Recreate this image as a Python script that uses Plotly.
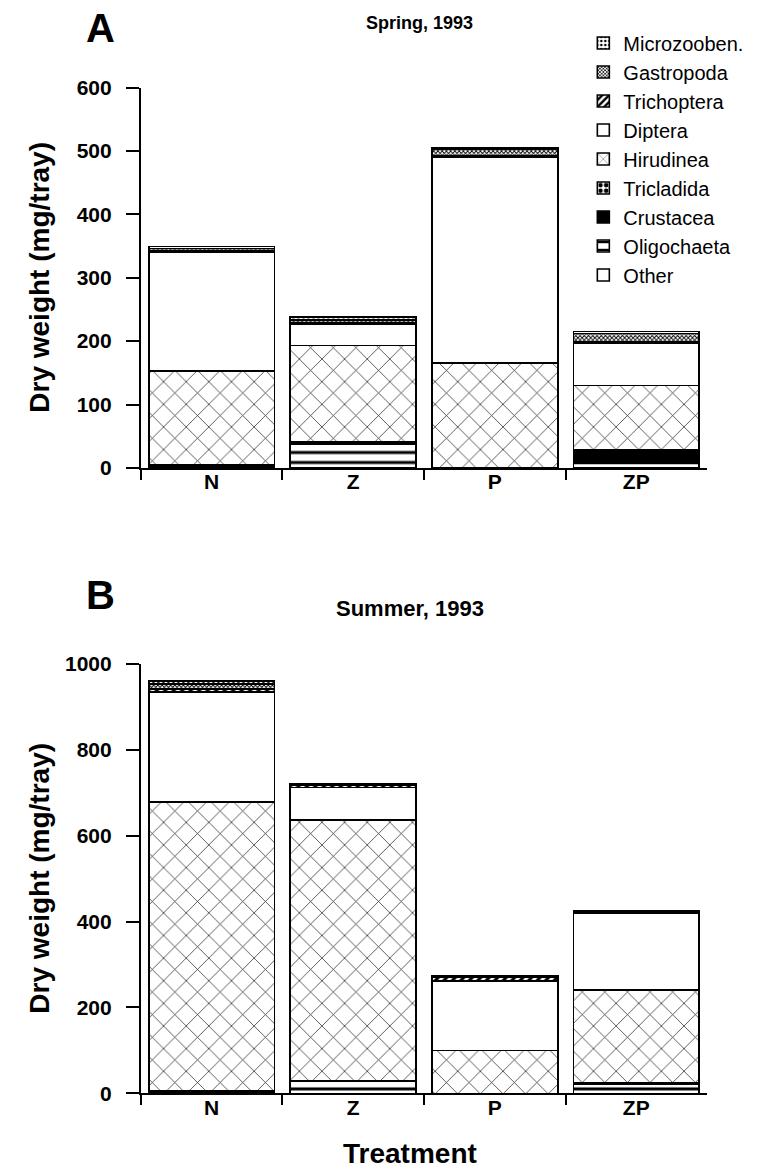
import plotly.graph_objects as go

treatments = ["N", "Z", "P", "ZP"]
taxa = ["Other", "Oligochaeta", "Crustacea", "Tricladida", "Hirudinea",
        "Diptera", "Trichoptera", "Gastropoda", "Microzooben."]

# Dry weight (mg/tray), spring 1993
spring_other = [0, 0, 0, 0]
spring_oligochaeta = [2, 38, 0, 8]
spring_crustacea = [3, 3, 0, 20]
spring_tricladida = [0, 0, 0, 0]
spring_hirudinea = [148, 152, 165, 102]
spring_diptera = [187, 33, 325, 67]
spring_trichoptera = [2, 3, 2, 2]
spring_gastropoda = [4, 4, 10, 13]
spring_microzooben = [3, 5, 3, 3]

# Dry weight (mg/tray), summer 1993
summer_other = [0, 0, 0, 0]
summer_oligochaeta = [3, 28, 0, 22]
summer_crustacea = [2, 2, 0, 3]
summer_tricladida = [0, 0, 0, 0]
summer_hirudinea = [674, 607, 100, 215]
summer_diptera = [256, 75, 161, 180]
summer_trichoptera = [6, 5, 10, 3]
summer_gastropoda = [12, 3, 2, 1]
summer_microzooben = [7, 2, 1, 1]

spring = [spring_other, spring_oligochaeta, spring_crustacea, spring_tricladida,
          spring_hirudinea, spring_diptera, spring_trichoptera, spring_gastropoda,
          spring_microzooben]
summer = [summer_other, summer_oligochaeta, summer_crustacea, summer_tricladida,
          summer_hirudinea, summer_diptera, summer_trichoptera, summer_gastropoda,
          summer_microzooben]

# fill pattern per taxon
patterns = {
    "Other": dict(shape="", bgcolor="white"),
    "Oligochaeta": dict(shape="-", fgcolor="black", fgopacity=1, bgcolor="white", size=10, solidity=0.3),
    "Crustacea": dict(shape="", bgcolor="black"),
    "Tricladida": dict(shape=".", fgcolor="black", fgopacity=1, bgcolor="white", size=7, solidity=0.5),
    "Hirudinea": dict(shape="x", fgcolor="black", fgopacity=0.85, bgcolor="white", size=16, solidity=0.09),
    "Diptera": dict(shape="", bgcolor="white"),
    "Trichoptera": dict(shape="/", fgcolor="black", fgopacity=1, bgcolor="white", size=6, solidity=0.5),
    "Gastropoda": dict(shape="x", fgcolor="black", fgopacity=1, bgcolor="white", size=3, solidity=0.5),
    "Microzooben.": dict(shape=".", fgcolor="black", fgopacity=1, bgcolor="white", size=5, solidity=0.3),
}
fill = {"Crustacea": "black"}

FONT = "Liberation Sans"

fig = go.Figure()
for panel, (series, xa, ya) in enumerate([(spring, "x", "y"), (summer, "x2", "y2")]):
    for name, vals in zip(taxa, series):
        fig.add_trace(go.Bar(
            x=treatments, y=vals, name=name, xaxis=xa, yaxis=ya,
            showlegend=(panel == 0), legendgroup=name,
            marker=dict(color=fill.get(name, "white"),
                        line=dict(color="black", width=1.6),
                        pattern=patterns[name]),
        ))

tick_font = dict(family=FONT, size=21, color="black", weight="bold")
xcommon = dict(type="category", showline=True, linecolor="black", linewidth=2,
               ticks="outside", tickson="boundaries", ticklen=10, tickwidth=1.5,
               tickcolor="black", tickfont=tick_font, showgrid=False,
               ticklabelstandoff=-6,
               domain=[0.180, 0.903], zeroline=False)
ycommon = dict(showline=True, linecolor="black", linewidth=2, ticks="outside",
               ticklen=13, tickwidth=1.5, tickcolor="black", tickfont=tick_font,
               ticklabelstandoff=10, showgrid=False, zeroline=False)

A_DOM = [0.6039, 0.9344]
B_DOM = [0.0605, 0.4336]

fig.update_layout(
    width=783, height=1174,
    margin=dict(l=0, r=0, t=0, b=0),
    paper_bgcolor="white", plot_bgcolor="white",
    barmode="stack", bargap=0.11,
    font=dict(family=FONT, color="black"),
    xaxis=dict(xcommon, anchor="y"),
    yaxis=dict(ycommon, anchor="x", domain=A_DOM, range=[0, 600],
               tickvals=[0, 100, 200, 300, 400, 500, 600]),
    xaxis2=dict(xcommon, anchor="y2"),
    yaxis2=dict(ycommon, anchor="x2", domain=B_DOM, range=[0, 1000],
                tickvals=[0, 200, 400, 600, 800, 1000]),
    legend=dict(x=0.745, y=0.99, xanchor="left", yanchor="top",
                traceorder="reversed", bgcolor="rgba(0,0,0,0)",
                font=dict(family=FONT, size=20, color="black"),
                itemwidth=30, tracegroupgap=0),
    showlegend=True,
)

annotations = [
    dict(text="A", x=0.128, y=1 - 16 / 1174, size=40),
    dict(text="Spring, 1993", x=0.536, y=1 - 11 / 1174, size=18),
    dict(text="B", x=0.128, y=1 - 595 / 1174, size=40),
    dict(text="Summer, 1993", x=0.524, y=1 - 608 / 1174, size=22),
    dict(text="Treatment", x=0.524, y=1 - 1164 / 1174, size=28),
    dict(text="Dry weight (mg/tray)", x=40 / 783, y=sum(A_DOM) / 2, size=28, textangle=-90),
    dict(text="Dry weight (mg/tray)", x=40 / 783, y=sum(B_DOM) / 2, size=28, textangle=-90),
]
for a in annotations:
    size = a.pop("size")
    fig.add_annotation(xref="paper", yref="paper", showarrow=False,
                       xanchor="center", yanchor="middle",
                       font=dict(family=FONT, size=size, color="black", weight="bold"),
                       **a)

fig.write_html("out.html")
